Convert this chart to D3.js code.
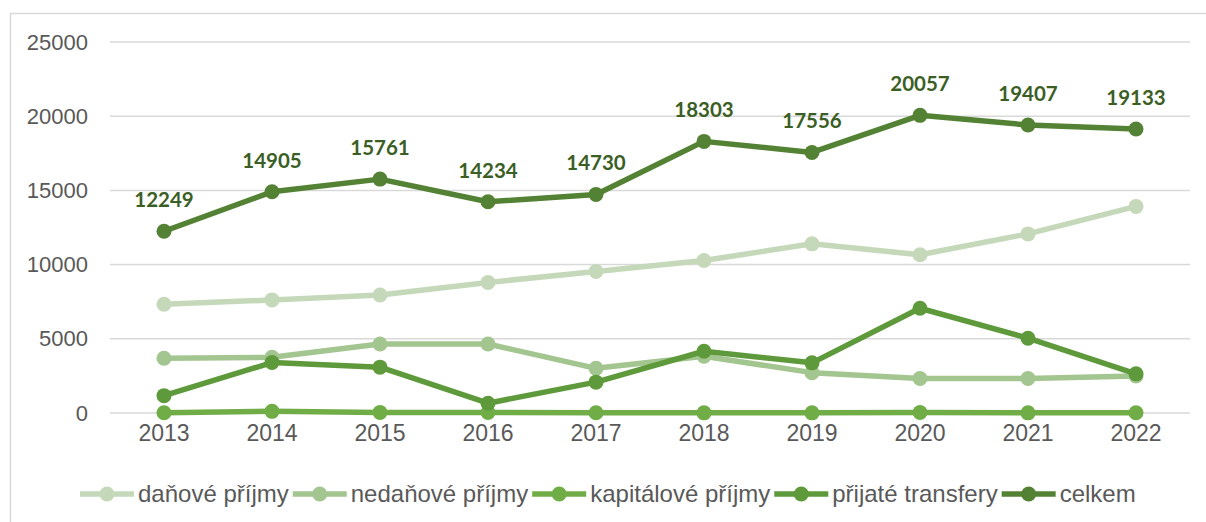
<!DOCTYPE html>
<html>
<head>
<meta charset="utf-8">
<script src="https://cdn.jsdelivr.net/npm/d3@7"></script>
<style>
  html, body { margin: 0; padding: 0; background: #fff; }
  svg { display: block; }
</style>
</head>
<body>
<div id="chart"></div>
<script>
const years = ['2013', '2014', '2015', '2016', '2017', '2018', '2019', '2020', '2021', '2022'];
const danove = [7330, 7620, 7950, 8800, 9540, 10280, 11400, 10660, 12070, 13920];
const nedanove = [3690, 3750, 4650, 4650, 3010, 3820, 2720, 2320, 2320, 2500];
const kapitalove = [20, 110, 40, 30, 15, 10, 10, 30, 10, 20];
const transfery = [1170, 3400, 3090, 660, 2080, 4160, 3380, 7060, 5040, 2640];
const celkem = [12249, 14905, 15761, 14234, 14730, 18303, 17556, 20057, 19407, 19133];
const yTicks = [0, 5000, 10000, 15000, 20000, 25000];

const series = [
  { name: 'daňové příjmy', values: danove, color: '#c5d9ba' },
  { name: 'nedaňové příjmy', values: nedanove, color: '#a3c590' },
  { name: 'kapitálové příjmy', values: kapitalove, color: '#70ad47' },
  { name: 'přijaté transfery', values: transfery, color: '#5e9a3b' },
  { name: 'celkem', values: celkem, color: '#548235' }
];

const W = 1206, H = 522;
const svg = d3.select('#chart').append('svg')
  .attr('width', W)
  .attr('height', H);

// chart area border
svg.append('rect')
  .attr('x', 10.5).attr('y', 13.5)
  .attr('width', W + 20).attr('height', H + 20)
  .attr('fill', 'none')
  .attr('stroke', '#d9d9d9')
  .attr('stroke-width', 1.5);

const x = d3.scaleBand().domain(years).range([110, 1190]);
const y = d3.scaleLinear().domain([0, 25000]).range([413, 42]);

// gridlines
svg.append('g')
  .selectAll('line')
  .data(yTicks)
  .join('line')
  .attr('x1', 110).attr('x2', 1190)
  .attr('y1', d => y(d)).attr('y2', d => y(d))
  .attr('stroke', '#d9d9d9')
  .attr('stroke-width', 1.5);

// y axis
const yAxis = svg.append('g')
  .attr('transform', 'translate(88,0)')
  .call(d3.axisLeft(y).tickValues(yTicks).tickSize(0).tickPadding(0).tickFormat(d3.format('d')));
yAxis.select('.domain').remove();
yAxis.selectAll('text')
  .attr('fill', '#595959')
  .style('font-family', '"Liberation Sans", Arial, sans-serif')
  .style('font-size', '22px');

// x axis
const xAxis = svg.append('g')
  .attr('transform', 'translate(0,425)')
  .call(d3.axisBottom(x).tickSize(0).tickPadding(0));
xAxis.select('.domain').remove();
xAxis.selectAll('text')
  .attr('fill', '#595959')
  .attr('dy', '0.71em')
  .style('font-family', '"Liberation Sans", Arial, sans-serif')
  .style('font-size', '23px');

const cx = (d, i) => x(years[i]) + x.bandwidth() / 2;
const line = d3.line()
  .x((d, i) => cx(d, i))
  .y(d => y(d));

series.forEach(s => {
  const g = svg.append('g');
  g.append('path')
    .datum(s.values)
    .attr('fill', 'none')
    .attr('stroke', s.color)
    .attr('stroke-width', 5.5)
    .attr('stroke-linejoin', 'round')
    .attr('d', line);
  g.selectAll('circle')
    .data(s.values)
    .join('circle')
    .attr('cx', (d, i) => cx(d, i))
    .attr('cy', d => y(d))
    .attr('r', 7.5)
    .attr('fill', s.color);
});

// data labels for celkem
svg.append('g')
  .selectAll('text')
  .data(celkem)
  .join('text')
  .attr('x', (d, i) => cx(d, i))
  .attr('y', d => y(d) - 24)
  .attr('text-anchor', 'middle')
  .attr('fill', '#3b5e25')
  .style('font-family', 'Lato, "Open Sans", sans-serif')
  .style('font-weight', 'bold')
  .style('font-size', '20.5px')
  .text(d => d);

// legend
const legend = svg.append('g');
let lx = 80;
const ly = 494;
series.forEach(s => {
  legend.append('line')
    .attr('x1', lx).attr('x2', lx + 54)
    .attr('y1', ly).attr('y2', ly)
    .attr('stroke', s.color)
    .attr('stroke-width', 5.5);
  legend.append('circle')
    .attr('cx', lx + 27).attr('cy', ly)
    .attr('r', 7.5)
    .attr('fill', s.color);
  const t = legend.append('text')
    .attr('x', lx + 58).attr('y', ly + 8)
    .attr('fill', '#595959')
    .style('font-family', '"Liberation Sans", Arial, sans-serif')
    .style('font-size', '24px')
    .text(s.name);
  lx += 58 + t.node().getComputedTextLength() + 4;
});
</script>
</body>
</html>
